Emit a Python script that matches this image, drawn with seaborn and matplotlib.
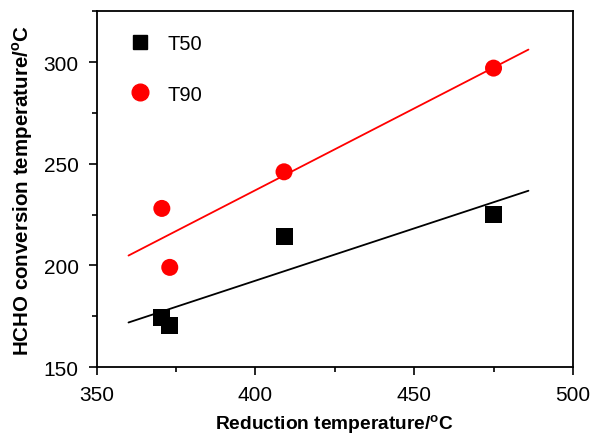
import numpy as np
import pandas as pd
import matplotlib
matplotlib.use("Agg")
import matplotlib.pyplot as plt
from matplotlib.ticker import MultipleLocator
from matplotlib.lines import Line2D
import seaborn as sns

# Data
reduction_temp = [370.5, 373.0, 409.0, 475.0]
t50 = [174.5, 170.5, 214.0, 225.0]
t90 = [228.0, 199.0, 246.0, 297.0]
series_names = ["T50", "T90"]
colors = ["black", "red"]
markers = ["s", "o"]
fit_range = [360.0, 486.0]

sns.set_theme(style="white")
plt.rcParams['font.family'] = ['Liberation Sans', 'DejaVu Sans']
plt.rcParams['mathtext.fontset'] = 'custom'
plt.rcParams['mathtext.rm'] = 'Liberation Sans'
plt.rcParams['mathtext.bf'] = 'Liberation Sans:bold'
plt.rcParams['text.color'] = 'black'
plt.rcParams['axes.labelcolor'] = 'black'

df = pd.DataFrame({
    "x": reduction_temp * 2,
    "y": t50 + t90,
    "series": [series_names[0]] * 4 + [series_names[1]] * 4,
})

fig = plt.figure(figsize=(5.9, 4.35), dpi=100)
ax = fig.add_axes([0.164, 0.154, 0.807, 0.818])

# fitted lines
for name, vals, c in zip(series_names, [t50, t90], colors):
    k, b = np.polyfit(reduction_temp, vals, 1)
    xs = np.linspace(fit_range[0], fit_range[1], 50)
    sns.lineplot(x=xs, y=k * xs + b, color=c, lw=1.3, ax=ax, legend=False)

sns.scatterplot(data=df, x="x", y="y", hue="series", style="series",
                palette=dict(zip(series_names, colors)),
                markers=dict(zip(series_names, markers)),
                s=150, edgecolor="none", ax=ax, legend=False, zorder=3)

handles = [Line2D([], [], ls="none", marker="s", color="black", markersize=10.5),
           Line2D([], [], ls="none", marker="o", color="red", markersize=12)]
ax.legend(handles, series_names, loc="upper left", frameon=False, fontsize=14.5,
          bbox_to_anchor=(0.066, 0.935), labelspacing=1.55, handletextpad=0.75,
          borderaxespad=0.0, borderpad=0.0, handlelength=1.2)

ax.set_xlim(350, 500)
ax.set_ylim(150, 325)
ax.xaxis.set_major_locator(MultipleLocator(50))
ax.xaxis.set_minor_locator(MultipleLocator(25))
ax.yaxis.set_major_locator(MultipleLocator(50))
ax.yaxis.set_minor_locator(MultipleLocator(25))
ax.tick_params(which="both", direction="out", bottom=True, left=True, top=False, right=False,
               colors="black", width=1.2)
ax.tick_params(which="major", length=6, labelsize=15, pad=7)
ax.tick_params(which="minor", length=3.5)
for s in ax.spines.values():
    s.set_color("black")
    s.set_linewidth(1.3)

ax.set_xlabel(r"Reduction temperature/$^{\mathbf{o}}$C", fontsize=13.8, fontweight="bold", labelpad=6)
ax.set_ylabel(r"HCHO conversion temperature/$^{\mathbf{o}}$C", fontsize=14.8, fontweight="bold", labelpad=6)

fig.savefig("out.png", dpi=100, facecolor="white")
